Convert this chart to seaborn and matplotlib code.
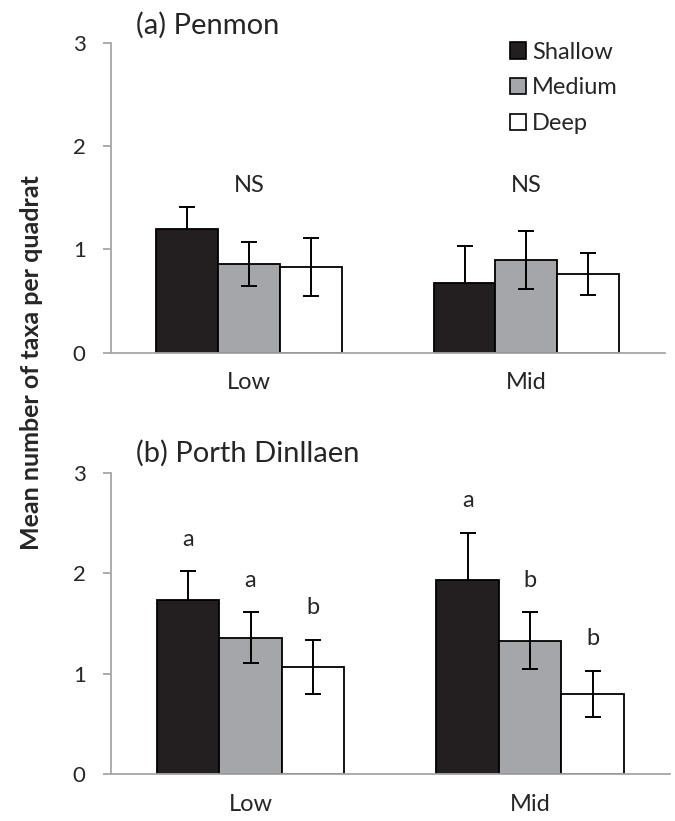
import numpy as np
import pandas as pd
import matplotlib
matplotlib.use("Agg")
import matplotlib.pyplot as plt
import seaborn as sns
from matplotlib.patches import Patch

# ---- data ----
shores = ["Low", "Mid"]
depths = ["Shallow", "Medium", "Deep"]
# order within each list: Low (Shallow, Medium, Deep), Mid (Shallow, Medium, Deep)
penmon_mean = [1.20, 0.86, 0.83, 0.67, 0.90, 0.76]
penmon_se = [0.21, 0.21, 0.28, 0.36, 0.28, 0.20]
porth_mean = [1.73, 1.36, 1.07, 1.93, 1.33, 0.80]
porth_se = [0.29, 0.25, 0.27, 0.47, 0.28, 0.23]
penmon_notes = ["NS", "NS"]
porth_letters = ["a", "a", "b", "a", "b", "b"]
yticks = [0, 1, 2, 3]

colors = {"Shallow": "#231f20", "Medium": "#a5a6a9", "Deep": "#ffffff"}
GRAY = "#a6a6a6"
FONT = "Lato"

sns.set_theme(style="white")
plt.rcParams["font.family"] = [FONT, "DejaVu Sans"]

fig = plt.figure(figsize=(6.75, 8.21), dpi=100)
ax1 = fig.add_axes([110.7 / 675, 1 - 352.7 / 821, (665 - 110.7) / 675, 310 / 821])
ax2 = fig.add_axes([110.7 / 675, 1 - 774.3 / 821, (670 - 110.7) / 675, 301.6 / 821])


def make_df(means):
    rows = []
    i = 0
    for s in shores:
        for d in depths:
            rows.append({"shore": s, "depth": d, "value": means[i]})
            i += 1
    return pd.DataFrame(rows)


def draw(ax, means, ses):
    df = make_df(means)
    sns.barplot(data=df, x="shore", y="value", hue="depth", order=shores,
                hue_order=depths, palette=colors, saturation=1, width=0.67,
                edgecolor="black", linewidth=1.3, errorbar=None, legend=False,
                ax=ax, zorder=2)
    centers = {}
    for d, cont in zip(depths, ax.containers):
        for s, bar in zip(shores, cont):
            centers[(s, d)] = (bar.get_x() + bar.get_width() / 2, bar.get_height())
    xs, hs, ds = [], [], []
    for s in shores:
        for d in depths:
            x, h = centers[(s, d)]
            xs.append(x)
            hs.append(h)
            ds.append(d)
    for x, h, se, d in zip(xs, hs, ses, ds):
        # dark bars hide the lower half of their error bar, as in the original
        z = 1 if d == "Shallow" else 5
        ax.errorbar([x], [h], yerr=[se], fmt="none", ecolor="black", elinewidth=1.4,
                    capsize=6, capthick=1.4, zorder=z)
    ax.set_xlim(-0.5, 1.5)
    ax.set_ylim(0, 3)
    ax.set_yticks(yticks)
    ax.set_yticklabels([str(t) for t in yticks], fontsize=16)
    ax.set_xticks([0, 1])
    ax.set_xticklabels(shores, fontsize=17)
    ax.set_xticks([-0.5, 0.5, 1.5], minor=True)
    ax.tick_params(axis="x", which="major", length=0, pad=14)
    ax.tick_params(axis="x", which="minor", length=6, width=1.3, color=GRAY, direction="out")
    ax.tick_params(axis="y", length=6, width=1.3, color=GRAY, direction="out", pad=12, left=True)
    ax.set_xlabel("")
    ax.set_ylabel("")
    for sp in ["top", "right"]:
        ax.spines[sp].set_visible(False)
    for sp in ["left", "bottom"]:
        ax.spines[sp].set_color(GRAY)
        ax.spines[sp].set_linewidth(1.3)
    return xs, hs


xs1, hs1 = draw(ax1, penmon_mean, penmon_se)
xs2, hs2 = draw(ax2, porth_mean, porth_se)

for i, note in enumerate(penmon_notes):
    ax1.text(i, 1.62, note, ha="center", va="center", fontsize=17)

for x, h, se, lab in zip(xs2, hs2, porth_se, porth_letters):
    ax2.text(x, h + se + 0.32, lab, ha="center", va="center", fontsize=17)

ax1.text(0.046, 1.057, "(a) Penmon", transform=ax1.transAxes, ha="left",
         va="center", fontsize=21)
ax2.text(0.046, 1.064, "(b) Porth Dinllaen", transform=ax2.transAxes, ha="left",
         va="center", fontsize=21)

handles = [Patch(facecolor=colors[d], edgecolor="black", linewidth=1.2, label=d)
           for d in depths]
ax1.legend(handles=handles, loc="upper left", bbox_to_anchor=(498 / 675, 1 - 30 / 821),
           bbox_transform=fig.transFigure, frameon=False, fontsize=17,
           handlelength=0.7, handleheight=0.7, handletextpad=0.25, labelspacing=0.62,
           borderpad=0)

fig.text(32 / 675, 1 - 363 / 821, "Mean number of taxa per quadrat", rotation=90,
         ha="center", va="center", fontsize=18, fontweight="bold")

fig.savefig("out.png", dpi=100)
